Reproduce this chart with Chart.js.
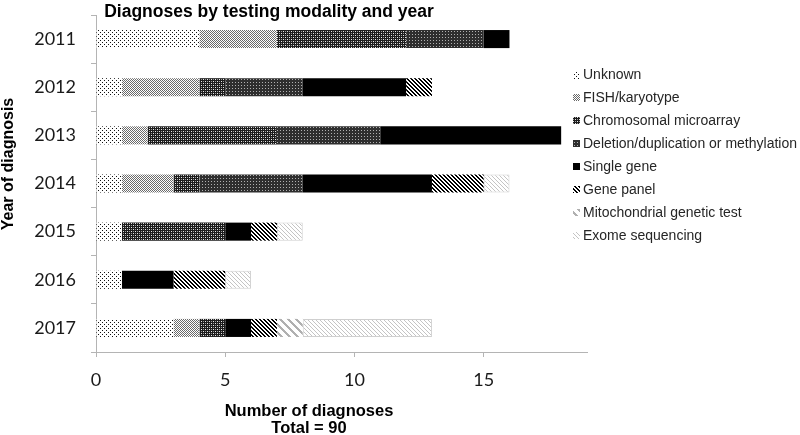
<!DOCTYPE html>
<html>
<head>
<meta charset="utf-8">
<script src="https://cdn.jsdelivr.net/npm/chart.js@4.4.1/dist/chart.umd.min.js"></script>
<style>
  html, body { margin: 0; padding: 0; background: #fff; }
  #wrap { width: 800px; height: 435px; }
</style>
</head>
<body>
<div id="wrap"><canvas id="c" width="800" height="435"></canvas></div>
<script>
// ---- data ----
const years = ['2011', '2012', '2013', '2014', '2015', '2016', '2017'];
const seriesNames = ['Unknown', 'FISH/karyotype', 'Chromosomal microarray', 'Deletion/duplication or methylation',
  'Single gene', 'Gene panel', 'Mitochondrial genetic test', 'Exome sequencing'];
const unknown     = [4, 1, 1, 1, 1, 1, 3];
const fish        = [3, 3, 1, 2, 0, 0, 1];
const chromosomal = [5, 1, 5, 1, 4, 0, 1];
const deletion    = [3, 3, 4, 4, 0, 0, 0];
const singleGene  = [1, 4, 7, 5, 1, 2, 1];
const genePanel   = [0, 1, 0, 2, 1, 2, 1];
const mito        = [0, 0, 0, 0, 0, 0, 1];
const exome       = [0, 0, 0, 1, 1, 1, 5];
const xTickValues = [0, 5, 10, 15];
const titleText = 'Diagnoses by testing modality and year';
const yTitleText = 'Year of diagnosis';
const xTitleLines = ['Number of diagnoses', 'Total = 90'];

// ---- patterns ----
function tile(size, bg, draw) {
  const c = document.createElement('canvas');
  c.width = size; c.height = size;
  const g = c.getContext('2d');
  g.fillStyle = bg; g.fillRect(0, 0, size, size);
  for (let y = 0; y < size; y++) for (let x = 0; x < size; x++) {
    const col = draw(x, y);
    if (col) { g.fillStyle = col; g.fillRect(x, y, 1, 1); }
  }
  return g.createPattern(c, 'repeat');
}
const ctxMain = document.getElementById('c').getContext('2d');
const patterns = [
  tile(4, '#ffffff', (x, y) => ((x === 0 && y === 0) || (x === 2 && y === 2)) ? '#111' : null),
  tile(4, '#ffffff', (x, y) => ((x + y) % 2 === 0) ? '#6a6a6a' : null),
  tile(4, '#1c1c1c', (x, y) => ((x === 1 && y === 1) || (x === 3 && y === 3)) ? '#e8e8e8' :
                               ((x === 1 && y === 3) || (x === 3 && y === 1)) ? '#9a9a9a' : null),
  tile(3, '#2e2e2e', (x, y) => (x === 1 && y === 1) ? '#b0b0b0' : null),
  '#000000',
  tile(4, '#ffffff', (x, y) => (((x - y) % 4 + 4) % 4 < 2) ? '#000' : null),
  tile(8, '#ffffff', (x, y) => (((x - y) % 8 + 8) % 8 < 3) ? '#b0b0b0' : null),
  tile(4, '#ffffff', (x, y) => (((x - y) % 4 + 4) % 4 === 0) ? '#c4c4c4' : null)
];
const seriesData = [unknown, fish, chromosomal, deletion, singleGene, genePanel, mito, exome];

const datasets = seriesData.map((arr, i) => ({
  label: seriesNames[i],
  data: arr.map(v => v === 0 ? null : v),
  backgroundColor: patterns[i],
  borderColor: i === 7 ? '#cfcfcf' : 'rgba(0,0,0,0)',
  borderWidth: i === 7 ? 1 : 0,
  borderSkipped: false,
  barPercentage: 0.375,
  categoryPercentage: 1.0
}));

// ---- custom text / legend plugin ----
const decor = {
  id: 'decor',
  afterDraw(chart) {
    const g = chart.ctx;
    g.save();
    // title
    g.fillStyle = '#000';
    g.font = 'bold 17.5px "Liberation Sans", Arial, sans-serif';
    g.textAlign = 'center';
    g.textBaseline = 'alphabetic';
    g.fillText(titleText, 269, 17);
    // x title
    g.font = 'bold 16.5px "Liberation Sans", Arial, sans-serif';
    g.fillText(xTitleLines[0], 309, 416);
    g.fillText(xTitleLines[1], 309, 433);
    // y title
    g.save();
    g.translate(13, 164);
    g.rotate(-Math.PI / 2);
    g.font = 'bold 16px "Liberation Sans", Arial, sans-serif';
    g.fillText(yTitleText, 0, 0);
    g.restore();
    // legend
    g.font = '14px "Liberation Sans", Arial, sans-serif';
    g.textAlign = 'left';
    g.textBaseline = 'middle';
    chart.data.datasets.forEach((ds, i) => {
      const y = 75 + i * 22.9;
      g.fillStyle = ds.backgroundColor;
      g.fillRect(573, Math.round(y - 3.5), 7, 7);
      g.fillStyle = '#262626';
      g.fillText(ds.label, 583, y + 0.5);
    });
    g.restore();
  }
};

new Chart(ctxMain, {
  type: 'bar',
  data: { labels: years, datasets },
  options: {
    indexAxis: 'y',
    responsive: false,
    devicePixelRatio: 1,
    animation: false,
    layout: { padding: { left: 0, right: 213, top: 15, bottom: 0 } },
    plugins: { legend: { display: false }, title: { display: false }, tooltip: { enabled: false } },
    scales: {
      x: {
        stacked: true,
        min: 0,
        max: 19,
        afterBuildTicks(scale) { scale.ticks = xTickValues.map(v => ({ value: v })); },
        afterFit(scale) { scale.height = 83; scale.paddingLeft = 0; scale.paddingRight = 0; },
        grid: { drawOnChartArea: false, drawTicks: true, tickLength: 5, color: '#b4b4b4' },
        border: { display: true, color: '#b4b4b4', width: 1 },
        ticks: { color: '#1a1a1a', padding: 12, font: { family: 'Lato', size: 18 } }
      },
      y: {
        stacked: true,
        afterFit(scale) { scale.width = 96; scale.paddingTop = 0; scale.paddingBottom = 0; },
        grid: { drawOnChartArea: false, drawTicks: true, tickLength: 5, color: '#b4b4b4', offset: true },
        border: { display: true, color: '#b4b4b4', width: 1 },
        ticks: { color: '#1a1a1a', padding: 15, font: { family: 'Lato', size: 18 } }
      }
    }
  },
  plugins: [decor]
});
</script>
</body>
</html>
